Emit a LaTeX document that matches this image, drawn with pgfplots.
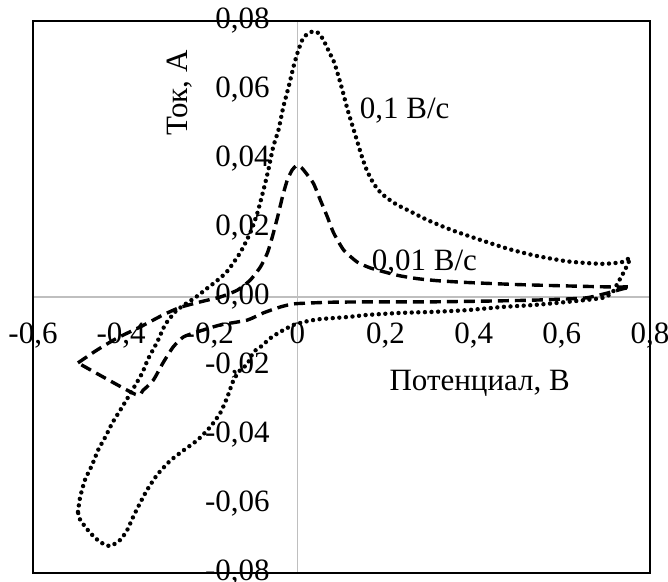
\documentclass[border=0pt]{standalone}
\usepackage{fontspec}
\setmainfont{Liberation Serif}
\usepackage{pgfplots}
\pgfplotsset{compat=1.18}

\begin{document}
\fontsize{15.5}{18}\selectfont
\begin{tikzpicture}
\begin{axis}[
  scale only axis,
  width=308.5pt,
  height=276pt,
  xmin=-0.6, xmax=0.8,
  ymin=-0.08, ymax=0.08,
  enlargelimits=false,
  scaled x ticks=false,
  scaled y ticks=false,
  axis lines=middle,
  axis line style={draw=black!25, line width=0.6pt, -},
  hide obscured x ticks=false,
  hide obscured y ticks=false,
  major tick length=0pt,
  xtick={-0.6,-0.4,-0.2,0,0.2,0.4,0.6,0.8},
  xticklabels={{-0,6},{-0,4},{-0,2},{0},{0,2},{0,4},{0,6},{0,8}},
  ytick={-0.08,-0.06,-0.04,-0.02,0,0.02,0.04,0.06,0.08},
  yticklabels={{-0,08},{-0,06},{-0,04},{-0,02},{0,00},{0,02},{0,04},{0,06},{0,08}},
  tick label style={font=\fontsize{15.5}{18}\selectfont},
  xticklabel style={anchor=north, yshift=-7.5pt},
  yticklabel style={anchor=east, xshift=-8.5pt},
  clip=false,
]
\draw[line width=0.8pt] (rel axis cs:0,0) rectangle (rel axis cs:1,1);

% 0,1 V/s
\addplot[black, line width=2.2pt, line cap=round, dash pattern=on 0pt off 3.3pt, smooth, tension=0.35] coordinates {
(-0.498,-0.0623) (-0.493,-0.058) (-0.482,-0.053) (-0.466,-0.0487) (-0.452,-0.0443)
(-0.436,-0.0406) (-0.42,-0.0365) (-0.402,-0.0328) (-0.384,-0.029) (-0.37,-0.026)
(-0.352,-0.022) (-0.339,-0.018) (-0.318,-0.013) (-0.3,-0.008) (-0.275,-0.004)
(-0.25,-0.0017) (-0.23,0) (-0.205,0.0025) (-0.18,0.005) (-0.159,0.0075)
(-0.13,0.0128) (-0.107,0.0186) (-0.091,0.0243) (-0.077,0.031) (-0.066,0.0368)
(-0.055,0.0435) (-0.043,0.0484) (-0.032,0.0551) (-0.02,0.0609) (-0.009,0.0667)
(0,0.0707) (0.011,0.0745) (0.022,0.0762) (0.036,0.077) (0.048,0.0765)
(0.059,0.0745) (0.072,0.071) (0.084,0.0678) (0.1,0.0609) (0.114,0.0542)
(0.13,0.0475) (0.145,0.0412) (0.155,0.0375) (0.167,0.0342) (0.182,0.0312)
(0.2,0.029) (0.225,0.0268) (0.25,0.0252) (0.295,0.0223) (0.35,0.0194)
(0.409,0.0168) (0.477,0.014) (0.539,0.012) (0.614,0.0103) (0.691,0.0096)
(0.736,0.0101) (0.755,0.0113)
(0.743,0.0078) (0.727,0.0041) (0.714,0.0012) (0.691,-0.0003) (0.614,-0.0014)
(0.539,-0.0023) (0.464,-0.0029) (0.386,-0.0038) (0.311,-0.0043) (0.236,-0.0046)
(0.159,-0.0052) (0.114,-0.0058) (0.052,-0.0064) (0.023,-0.007) (-0.009,-0.0081)
(-0.039,-0.0101) (-0.061,-0.0119) (-0.084,-0.0145) (-0.1,-0.016) (-0.114,-0.0195)
(-0.13,-0.0212) (-0.145,-0.0241) (-0.159,-0.029) (-0.175,-0.0336) (-0.198,-0.0377)
(-0.227,-0.0415) (-0.259,-0.0445) (-0.289,-0.0475) (-0.318,-0.0515) (-0.341,-0.0559)
(-0.357,-0.0597) (-0.373,-0.0638) (-0.386,-0.0675) (-0.402,-0.0704) (-0.425,-0.0722)
(-0.448,-0.071) (-0.47,-0.0684) (-0.493,-0.0646) (-0.498,-0.0623)
};

% 0,01 V/s
\addplot[black, line width=1.7pt, dash pattern=on 5.5pt off 3pt, smooth, tension=0.35] coordinates {
(-0.498,-0.0191) (-0.455,-0.0154) (-0.409,-0.0119) (-0.357,-0.0087) (-0.305,-0.0052)
(-0.266,-0.003) (-0.22,-0.0014) (-0.175,0) (-0.136,0.002) (-0.107,0.0049)
(-0.084,0.0087) (-0.068,0.0128) (-0.057,0.0174) (-0.045,0.0232) (-0.034,0.029)
(-0.023,0.0339) (-0.012,0.0368) (-0.003,0.038) (0.006,0.0378) (0.014,0.0368)
(0.036,0.033) (0.052,0.0281) (0.068,0.0232) (0.082,0.0186) (0.105,0.0136)
(0.136,0.0101) (0.166,0.0084) (0.205,0.007) (0.234,0.0061) (0.273,0.0053)
(0.32,0.0047) (0.386,0.0042) (0.5,0.0036) (0.614,0.0032) (0.714,0.0029) (0.755,0.0029)
(0.736,0.0023) (0.705,0.0012) (0.652,-0.0003) (0.539,-0.0009) (0.425,-0.0012)
(0.311,-0.0014) (0.198,-0.0014) (0.084,-0.0015) (0.036,-0.0017) (-0.009,-0.002)
(-0.039,-0.0029) (-0.077,-0.0046) (-0.114,-0.0067) (-0.175,-0.0081) (-0.227,-0.0101)
(-0.259,-0.0116) (-0.282,-0.0145) (-0.305,-0.0191) (-0.327,-0.0241) (-0.35,-0.027)
(-0.368,-0.0282) (-0.498,-0.0191)
};

\node[anchor=west, inner sep=0pt] at (axis cs:0.141,0.054) {0,1 В/с};
\node[anchor=west, inner sep=0pt] at (axis cs:0.168,0.0101) {0,01 В/с};
\node at (axis description cs:0.724,0.344) {Потенциал, В};
\node[rotate=90] at (axis description cs:0.238,0.87) {Ток, А};
\end{axis}
\pgfresetboundingbox
\path ([shift={(-16.5pt,-4.5pt)}]current axis.south west)
  rectangle ([shift={(9pt,10.5pt)}]current axis.north east);
\end{tikzpicture}
\end{document}
